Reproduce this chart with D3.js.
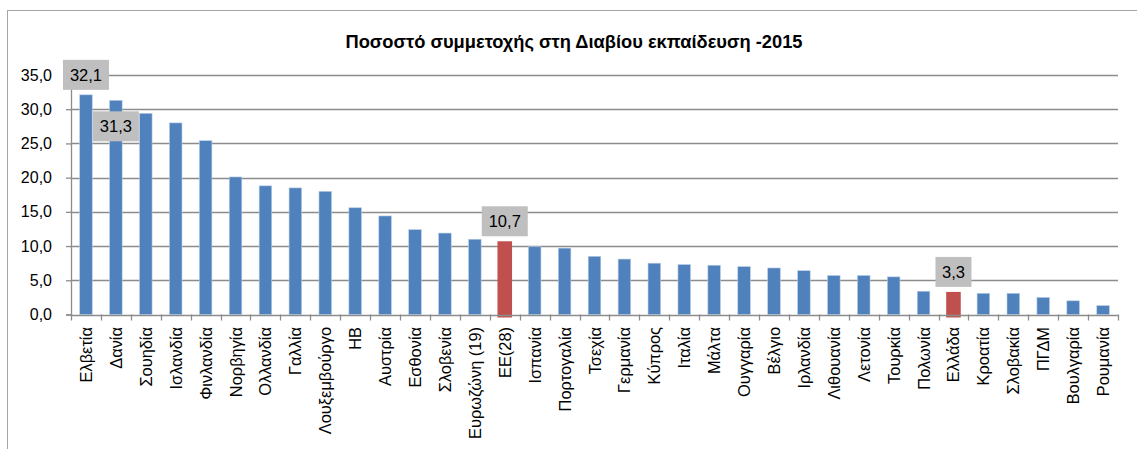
<!DOCTYPE html>
<html lang="el">
<head>
    <meta charset="UTF-8">
    <title>Ποσοστό συμμετοχής στη Διαβίου εκπαίδευση -2015</title>
    <script src="https://d3js.org/d3.v7.min.js"></script>
    <style>
        body { margin: 0; background: #fff; }
        svg text { font-family: "Liberation Sans", "DejaVu Sans", sans-serif; fill: #000; }
        .title { font-size: 18.3px; font-weight: bold; }
        .tick-y { font-size: 16px; }
        .tick-x { font-size: 16.4px; }
        .lbl { font-size: 16.5px; }
    </style>
</head>
<body>
    <div id="chart"></div>

    <script>
        // data
        const countries = ["Ελβετία", "Δανία", "Σουηδία", "Ισλανδία", "Φινλανδία", "Νορβηγία",
            "Ολλανδία", "Γαλλία", "Λουξεμβούργο", "ΗΒ", "Αυστρία", "Εσθονία", "Σλοβενία",
            "Ευρωζώνη (19)", "ΕΕ(28)", "Ισπανία", "Πορτογαλία", "Τσεχία", "Γερμανία", "Κύπρος",
            "Ιταλία", "Μάλτα", "Ουγγαρία", "Βέλγιο", "Ιρλανδία", "Λιθουανία", "Λετονία",
            "Τουρκία", "Πολωνία", "Ελλάδα", "Κροατία", "Σλοβακία", "ΠΓΔΜ", "Βουλγαρία", "Ρουμανία"];
        const values = [32.1, 31.3, 29.4, 28.0, 25.4, 20.1, 18.8, 18.5, 18.0, 15.6, 14.4, 12.4, 11.9,
            11.0, 10.7, 9.9, 9.7, 8.5, 8.1, 7.5, 7.3, 7.2, 7.0, 6.8, 6.4, 5.7, 5.7,
            5.5, 3.4, 3.3, 3.1, 3.1, 2.5, 2.0, 1.3];
        const highlighted = ["ΕΕ(28)", "Ελλάδα"];
        const labelled = ["Ελβετία", "Δανία", "ΕΕ(28)", "Ελλάδα"];
        const yTicks = [0, 5, 10, 15, 20, 25, 30, 35];

        const W = 1137, H = 449;
        const fmt = v => v.toFixed(1).replace(".", ",");

        const svg = d3.select("#chart").append("svg")
            .attr("width", W).attr("height", H);

        // outer chart frame
        svg.append("rect")
            .attr("x", 7.5).attr("y", 10.5)
            .attr("width", W + 10).attr("height", H + 10)
            .attr("fill", "none").attr("stroke", "#a6a6a6");

        svg.append("text")
            .attr("class", "title")
            .attr("x", 574).attr("y", 48)
            .attr("text-anchor", "middle")
            .text("Ποσοστό συμμετοχής στη Διαβίου εκπαίδευση -2015");

        const x = d3.scaleBand()
            .domain(countries)
            .range([71, 1118])
            .paddingInner(0.58)
            .paddingOuter(0.29);

        const y = d3.scaleLinear()
            .domain([0, 35])
            .range([314.5, 75]);

        // gridlines
        svg.append("g")
            .selectAll("line")
            .data(yTicks.filter(d => d > 0))
            .join("line")
            .attr("x1", 71).attr("x2", 1118)
            .attr("y1", d => Math.round(y(d)) + 0.5)
            .attr("y2", d => Math.round(y(d)) + 0.5)
            .attr("stroke", "#8c8c8c")
            .attr("stroke-width", 1.3);

        // y axis
        const yAxis = svg.append("g")
            .attr("transform", "translate(71,0)")
            .call(d3.axisLeft(y).tickValues(yTicks).tickSize(5).tickPadding(14).tickFormat(fmt));
        yAxis.select(".domain").attr("stroke", "#8c8c8c").attr("stroke-width", 1.3);
        yAxis.selectAll(".tick line").attr("stroke", "#8c8c8c").attr("stroke-width", 1.3);
        yAxis.selectAll(".tick text").attr("class", "tick-y").attr("font-family", null).attr("font-size", null);

        // bars
        svg.append("g")
            .selectAll("rect")
            .data(countries)
            .join("rect")
            .attr("x", d => highlighted.includes(d) ? x(d) - 1 : x(d))
            .attr("width", d => highlighted.includes(d) ? x.bandwidth() + 2 : x.bandwidth())
            .attr("y", (d, i) => y(values[i]))
            .attr("height", (d, i) => y(0) - y(values[i]) + (highlighted.includes(d) ? 3 : 0))
            .attr("fill", d => highlighted.includes(d) ? "#c0504d" : "#4f81bd")
            .attr("stroke", d => highlighted.includes(d) ? "none" : "#b9cde5")
            .attr("stroke-width", 0.6);

        // x axis: ticks between categories
        const xa = svg.append("g");
        xa.append("line")
            .attr("x1", 71).attr("x2", 1118)
            .attr("y1", Math.round(y(0)) + 0.5).attr("y2", Math.round(y(0)) + 0.5)
            .attr("stroke", "#8c8c8c").attr("stroke-width", 1.3);
        const step = x.step();
        xa.selectAll("line.sep")
            .data(d3.range(countries.length + 1))
            .join("line")
            .attr("class", "sep")
            .attr("x1", i => Math.round(x(countries[0]) - x.paddingOuter() * step + i * step) + 0.5)
            .attr("x2", i => Math.round(x(countries[0]) - x.paddingOuter() * step + i * step) + 0.5)
            .attr("y1", y(0)).attr("y2", y(0) + 6)
            .attr("stroke", "#8c8c8c").attr("stroke-width", 1.3);

        xa.selectAll("text")
            .data(countries)
            .join("text")
            .attr("class", "tick-x")
            .attr("transform", d => `translate(${x(d) + x.bandwidth() / 2 + 6},327) rotate(-90)`)
            .attr("text-anchor", "end")
            .text(d => d);

        // data labels in grey boxes
        const lab = svg.append("g")
            .selectAll("g")
            .data(labelled)
            .join("g")
            .attr("transform", d => {
                const i = countries.indexOf(d);
                const cx = x(d) + x.bandwidth() / 2;
                // Δανία's label sits under its bar top so it clears the Ελβετία box
                const cy = d === "Δανία" ? y(values[i]) + 26 : y(values[i]) - 20;
                return `translate(${cx},${cy})`;
            });
        lab.append("rect")
            .attr("x", d => d === "Ελλάδα" ? -18 : -23)
            .attr("width", d => d === "Ελλάδα" ? 36 : 46)
            .attr("y", -15).attr("height", 30)
            .attr("fill", "#bfbfbf");
        lab.append("text")
            .attr("class", "lbl")
            .attr("text-anchor", "middle")
            .attr("dy", "0.36em")
            .text(d => fmt(values[countries.indexOf(d)]));
    </script>
</body>
</html>
